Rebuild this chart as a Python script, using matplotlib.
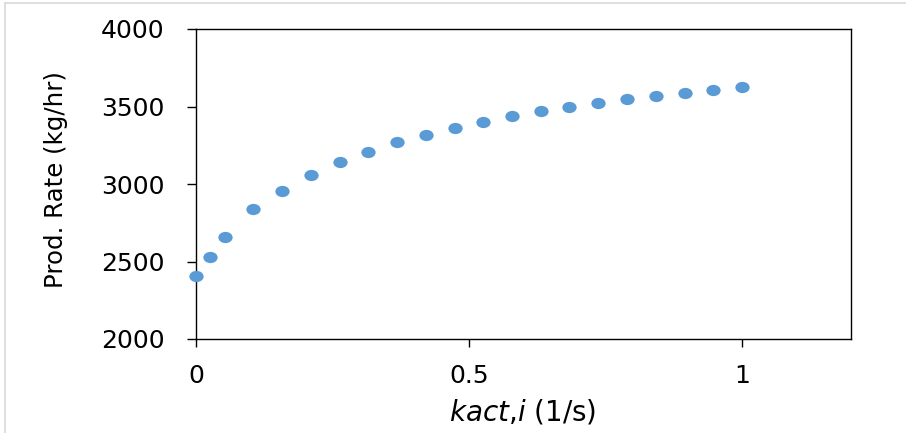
import numpy as np
import matplotlib
matplotlib.use("Agg")
import matplotlib.pyplot as plt
from matplotlib.path import Path
from matplotlib.transforms import Affine2D
from matplotlib.lines import Line2D

# kact,i values (1/s) and production rate (kg/hr)
kact = [0.0, 0.025, 0.053, 0.105, 0.158, 0.211, 0.263, 0.316, 0.368, 0.421, 0.474,
        0.526, 0.579, 0.632, 0.684, 0.737, 0.789, 0.842, 0.895, 0.947, 1.0]
rate = [2405, 2527, 2660, 2837, 2957, 3060, 3144, 3208, 3273, 3316, 3363,
        3402, 3441, 3473, 3499, 3525, 3550, 3570, 3589, 3606, 3628]

x_ticks = [0, 0.5, 1]
x_tick_labels = ["0", "0.5", "1"]
y_ticks = [2000, 2500, 3000, 3500, 4000]

plt.rcParams['font.family'] = ['DejaVu Sans']
plt.rcParams['mathtext.fontset'] = 'custom'
plt.rcParams['mathtext.it'] = 'DejaVu Sans:italic'
plt.rcParams['mathtext.rm'] = 'DejaVu Sans'

fig = plt.figure(figsize=(9.06, 4.33), dpi=100)
ax = fig.add_axes([196/906, 1-339/433, 655/906, 310/433])

# slightly wide ellipse marker, like the reference
ellipse = Path.unit_circle().transformed(Affine2D().scale(1.27, 1.0))
ax.plot(kact, rate, linestyle="none", marker=ellipse, markersize=10.3,
        color="#5b9bd5", markeredgewidth=0, clip_on=False, zorder=3)

ax.set_xlim(0, 1.2)
ax.set_ylim(2000, 4000)
ax.set_xticks(x_ticks)
ax.set_xticklabels(x_tick_labels)
ax.set_yticks(y_ticks)

for s in ax.spines.values():
    s.set_linewidth(1.0)
    s.set_color("black")

ax.tick_params(axis="x", direction="out", length=6, width=1.0, labelsize=18, pad=12)
ax.tick_params(axis="y", direction="out", length=6.5, width=1.0, labelsize=18, pad=16)

fig.text(56/906, 1-180/433, "Prod. Rate (kg/hr)", rotation=90, ha="center", va="center",
         fontsize=17.6)
fig.text(523/906, 1-412/433, r"$\mathit{kact{,}i}$ (1/s)", ha="center", va="center",
         fontsize=20)

# light gray chart border (only top and left visible)
fig.add_artist(Line2D([4.5/906, 1], [1-2.5/433, 1-2.5/433], transform=fig.transFigure,
                      color="#d9d9d9", linewidth=1.2))
fig.add_artist(Line2D([4.5/906, 4.5/906], [0, 1-2.5/433], transform=fig.transFigure,
                      color="#d9d9d9", linewidth=1.2))

fig.savefig("out.png", dpi=100)
